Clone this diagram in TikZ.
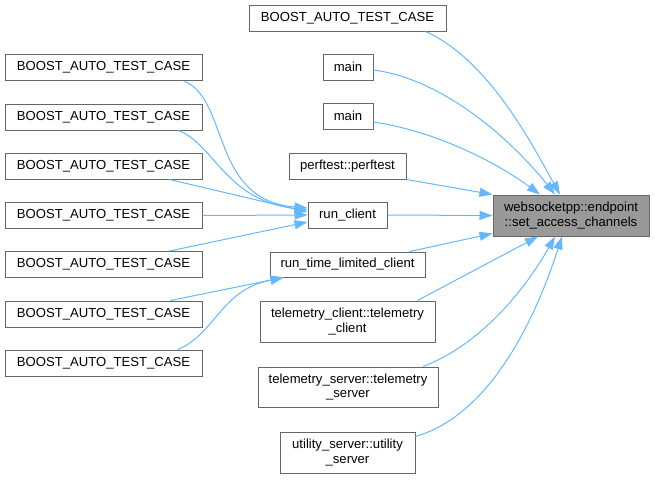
\documentclass[tikz,border=0pt]{standalone}
\usepackage{fontspec}
\setmainfont{Liberation Sans}
\usetikzlibrary{arrows.meta}
\definecolor{edgeblue}{HTML}{63B8FF}
\definecolor{boxborder}{HTML}{666666}
\definecolor{rootfill}{HTML}{999999}
\begin{document}
\begin{tikzpicture}[x=1pt,y=-1pt,
 box/.style={draw=boxborder, line width=1pt, fill=white, rectangle, inner sep=0pt, minimum height=26pt, align=center, font=\fontsize{13.1}{14.5}\selectfont},
 tall/.style={box, minimum height=41pt},
 root/.style={tall, fill=rootfill},
 edge/.style={draw=edgeblue, line width=1pt, -{Triangle[length=13pt,width=9pt]}}]
\useasboundingbox (0,0) rectangle (655,479);

% middle column
\node[box, minimum width=197pt] (T1) at (347.5,18) {BOOST\_AUTO\_TEST\_CASE};
\node[box, minimum width=50pt] (M1) at (348,67) {main};
\node[box, minimum width=50pt] (M2) at (348,116) {main};
\node[box, minimum width=117pt] (PF) at (347.5,166) {perftest::perftest};
\node[box, minimum width=79pt] (RC) at (347.5,215) {run\_client};
\node[box, minimum width=155pt, minimum height=25pt] (RTL) at (347.5,264.5) {run\_time\_limited\_client};
\node[tall, minimum width=175pt] (TC) at (347.5,321.5) {telemetry\_client::telemetry\\\_client};
\node[tall, minimum width=180pt, minimum height=40pt] (TS) at (348,387) {telemetry\_server::telemetry\\\_server};
\node[tall, minimum width=135pt] (US) at (347.5,452.5) {utility\_server::utility\\\_server};

% root
\node[root, minimum width=156pt] (TG) at (571,215.5) {websocketpp::endpoint\\::set\_access\_channels};

% left column
\node[box, minimum width=197pt] (L1) at (103.5,67.5) {BOOST\_AUTO\_TEST\_CASE};
\node[box, minimum width=197pt] (L2) at (103.5,117) {BOOST\_AUTO\_TEST\_CASE};
\node[box, minimum width=197pt] (L3) at (103.5,166) {BOOST\_AUTO\_TEST\_CASE};
\node[box, minimum width=197pt] (L4) at (103.5,215.5) {BOOST\_AUTO\_TEST\_CASE};
\node[box, minimum width=197pt] (L5) at (103.5,264.5) {BOOST\_AUTO\_TEST\_CASE};
\node[box, minimum width=197pt] (L6) at (103.5,314) {BOOST\_AUTO\_TEST\_CASE};
\node[box, minimum width=197pt] (L7) at (103.5,363) {BOOST\_AUTO\_TEST\_CASE};

% edges into run_client
\draw[edge] ([xshift=80.5pt]L1.south) .. controls (230,100) and (210,200) .. ([yshift=7pt]RC.west);
\draw[edge] ([xshift=75pt]L2.south) .. controls (215,145) and (225,200) .. ([yshift=5pt]RC.west);
\draw[edge] ([xshift=66pt]L3.south) -- ([yshift=3pt]RC.west);
\draw[edge] (L4.east) -- (RC.west);
\draw[edge] ([xshift=66pt]L5.north) -- ([yshift=-7pt]RC.west);

% edges into run_time_limited_client
\draw[edge] ([xshift=67pt]L6.north) -- ([xshift=-64pt]RTL.south);
\draw[edge] ([xshift=74pt]L7.north) .. controls (215,335) and (220,290) .. ([xshift=-64pt]RTL.south);

% edges into root
\draw[edge] ([xshift=78pt]T1.south) .. controls (490,60) and (535,150) .. ([xshift=-11pt]TG.north);
\draw[edge] ([yshift=-3pt]M1.east) .. controls (450,80) and (520,150) .. ([xshift=-16pt]TG.north);
\draw[edge] ([yshift=-6pt]M2.east) .. controls (440,132) and (500,165) .. ([xshift=-31pt]TG.north);
\draw[edge] (PF.south east) -- (TG.north west);
\draw[edge] (RC.east) -- (TG.west);
\draw[edge] ([xshift=62pt]RTL.north) -- ([yshift=3pt]TG.south west);
\draw[edge] ([xshift=70pt]TC.north) -- ([xshift=-33pt]TG.south);
\draw[edge] ([xshift=75pt]TS.north) .. controls (480,345) and (525,290) .. ([xshift=-16pt]TG.south);
\draw[edge] ([yshift=16pt]US.east) .. controls (490,415) and (535,320) .. ([xshift=-9pt]TG.south);
\end{tikzpicture}
\end{document}
